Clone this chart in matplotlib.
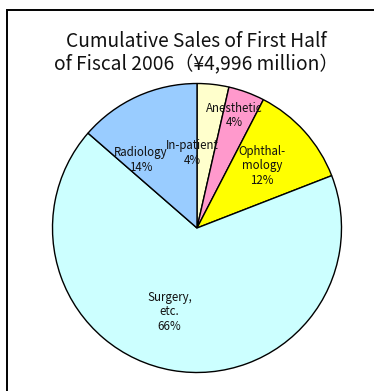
import matplotlib
matplotlib.use("Agg")
import matplotlib.pyplot as plt
from matplotlib.patches import Rectangle

plt.rcParams['font.family'] = ['Noto Sans CJK JP', 'DejaVu Sans']

# Data
categories = ["In-patient", "Anesthetic", "Ophthal-\nmology", "Surgery,\netc.", "Radiology"]
values = [3.55, 4.05, 11.5, 67.3, 13.6]
pct_labels = ["4%", "4%", "12%", "66%", "14%"]
colors = ["#FFFFCC", "#FF99CC", "#FFFF00", "#CCFFFF", "#99CCFF"]
title = "Cumulative Sales of First Half\nof Fiscal 2006（¥4,996 million）"

# label positions (data units, pie radius = 1)
label_xy = [(-0.03, 0.52), (0.26, 0.78), (0.45, 0.43), (-0.19, -0.58), (-0.39, 0.47)]

W, H = 374, 391
fig = plt.figure(figsize=(W / 100, H / 100), dpi=100)
fig.patch.set_facecolor("white")

cx, cy, r = 197, H - 228, 144.5
half = 1.1 * r
ax = fig.add_axes([(cx - half) / W, (cy - half) / H, 2 * half / W, 2 * half / H])
ax.pie(values, colors=colors, startangle=90, counterclock=False, radius=1,
       wedgeprops=dict(edgecolor="black", linewidth=1.0))
ax.set_xlim(-1.1, 1.1)
ax.set_ylim(-1.1, 1.1)
ax.set_aspect("auto")
ax.axis("off")

for cat, pct, (x, y) in zip(categories, pct_labels, label_xy):
    ax.text(x, y, f"{cat}\n{pct}", ha="center", va="center", fontsize=8.3,
            linespacing=1.15, color="#111111")

fig.text(196 / W, 1 - 53 / H, title, ha="center", va="center", fontsize=13.8,
         linespacing=1.12, color="#111111")

fig.add_artist(Rectangle((7 / W, -0.1), 2, (H - 10) / H + 0.1, transform=fig.transFigure,
                         fill=False, edgecolor="black", linewidth=1.4))

fig.savefig("out.png", dpi=100)
